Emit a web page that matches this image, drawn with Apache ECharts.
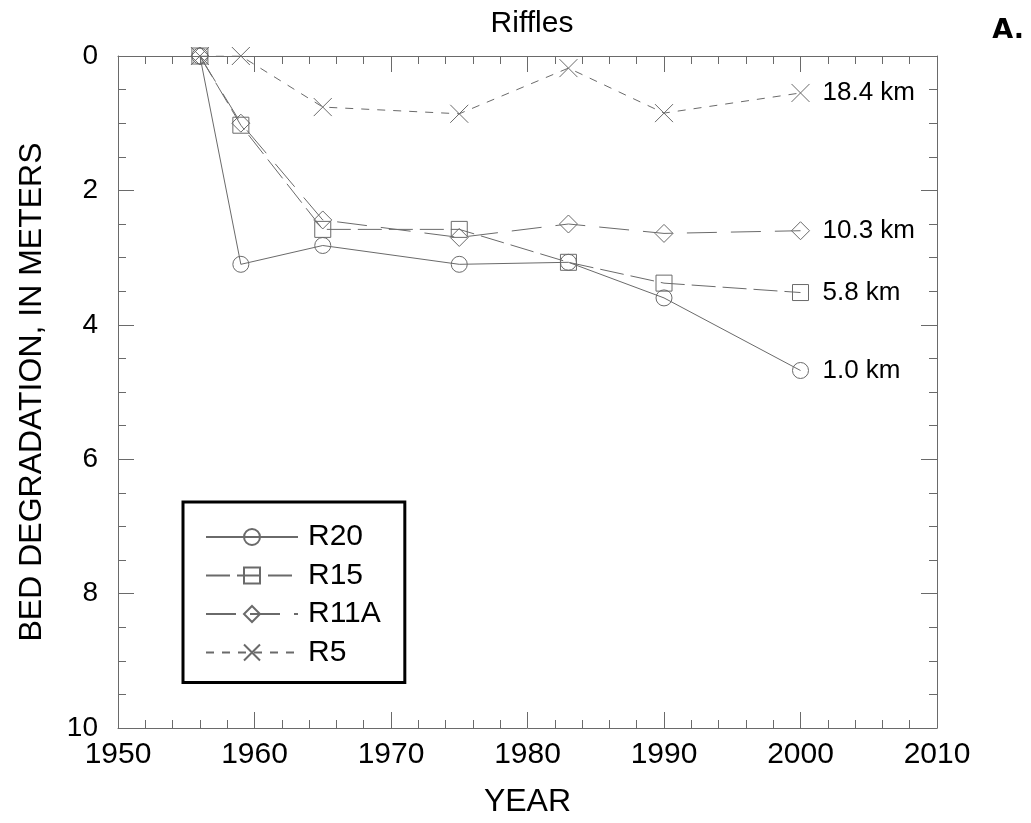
<!DOCTYPE html>
<html>
<head>
<meta charset="utf-8">
<script src="https://cdn.jsdelivr.net/npm/echarts@6/dist/echarts.min.js"></script>
<style>
  html, body { margin: 0; padding: 0; background: #fff; }
  #chart { width: 1031px; height: 823px; }
</style>
</head>
<body>
<div id="chart"></div>
<script>
// survey years and bed degradation (m) per riffle
const years = [1956, 1959, 1965, 1975, 1983, 1990, 2000];
const r20 = [0, 3.1, 2.82, 3.1, 3.07, 3.6, 4.68];
const r15 = [0, 1.03, 2.58, 2.58, 3.07, 3.38, 3.52];
const r11a = [0, 1.0, 2.44, 2.7, 2.5, 2.64, 2.6];
const r5 = [0, 0, 0.76, 0.86, 0.18, 0.85, 0.55];
const seriesNames = ['R20', 'R15', 'R11A', 'R5'];
const endLabels = ['1.0 km', '5.8 km', '10.3 km', '18.4 km'];

const font = 'Liberation Sans, Arial, sans-serif';
const grey = '#6a6a6a';

function pairs(vals) {
  return years.map(function (y, i) { return [y, vals[i]]; });
}

function mkSeries(i, vals, symbol, dash, size) {
  return {
    name: seriesNames[i],
    type: 'line',
    data: pairs(vals),
    symbol: symbol,
    symbolSize: size,
    showAllSymbol: true,
    lineStyle: { color: grey, width: 1, type: dash },
    itemStyle: { color: 'rgba(255,255,255,0)', borderColor: grey, borderWidth: 1 },
    emphasis: { disabled: true },
    endLabel: {
      show: true,
      formatter: endLabels[i],
      distance: 22,
      color: '#000',
      fontSize: 26,
      fontFamily: font
    }
  };
}

// frame axis helper: ticks point into the plot
function frameTicks(minor) {
  return {
    axisTick: { show: true, inside: true, length: 16, lineStyle: { color: grey } },
    minorTick: { show: true, splitNumber: minor, length: 8, lineStyle: { color: grey } }
  };
}

let myChart = echarts.init(document.getElementById('chart'));
let option = {
  animation: false,
  backgroundColor: '#fff',
  title: [
    {
      text: 'Riffles',
      left: 527, top: 4, textAlign: 'center',
      textStyle: { fontSize: 30, fontWeight: 'normal', color: '#000', fontFamily: font }
    },
    {
      text: 'A.',
      right: 2, top: 12,
      textStyle: { fontSize: 27, fontWeight: 'bold', color: '#000', fontFamily: 'DejaVu Sans, sans-serif' }
    }
  ],
  grid: { left: 118, right: 94, top: 56, bottom: 93 },
  legend: {
    orient: 'vertical',
    left: 183, top: 502,
    padding: [20, 24, 15, 22],
    itemWidth: 92,
    itemHeight: 20,
    itemGap: 8.5,
    borderColor: '#000',
    borderWidth: 3,
    textStyle: { fontSize: 30, color: '#000', fontFamily: font, padding: [0, 0, 0, 5] },
    data: seriesNames
  },
  xAxis: [
    Object.assign({
      type: 'value', min: 1950, max: 2010, interval: 10,
      name: 'YEAR', nameLocation: 'middle', nameGap: 58,
      nameTextStyle: { fontSize: 32, color: '#000', fontFamily: font },
      axisLine: { onZero: false, lineStyle: { color: grey } },
      axisLabel: {
        fontSize: 30, color: '#000', fontFamily: font, margin: 12,
        formatter: function (v) { return String(v); }
      },
      splitLine: { show: false }
    }, frameTicks(5)),
    Object.assign({
      type: 'value', min: 1950, max: 2010, interval: 10, position: 'top',
      axisLine: { onZero: false, lineStyle: { color: grey } },
      axisLabel: { show: false },
      splitLine: { show: false }
    }, frameTicks(5))
  ],
  yAxis: [
    Object.assign({
      type: 'value', min: 0, max: 10, interval: 2, inverse: true,
      name: 'BED DEGRADATION, IN METERS', nameLocation: 'middle', nameGap: 70,
      nameTextStyle: { fontSize: 32, color: '#000', fontFamily: font },
      axisLine: { show: true, onZero: false, lineStyle: { color: grey } },
      axisLabel: { fontSize: 28, color: '#000', fontFamily: font, margin: 20 },
      splitLine: { show: false }
    }, frameTicks(4)),
    Object.assign({
      type: 'value', min: 0, max: 10, interval: 2, inverse: true, position: 'right',
      axisLine: { show: true, onZero: false, lineStyle: { color: grey } },
      axisLabel: { show: false },
      splitLine: { show: false }
    }, frameTicks(4))
  ],
  series: [
    mkSeries(0, r20, 'circle', 'solid', 16),
    mkSeries(1, r15, 'rect', [24, 7], 16),
    mkSeries(2, r11a, 'diamond', [30, 14], 18),
    mkSeries(3, r5, 'path://M0,0L10,10M10,0L0,10', [8, 8], 18)
  ]
};
myChart.setOption(option);
window.addEventListener('resize', function () { myChart.resize() })
</script>
</body>
</html>
